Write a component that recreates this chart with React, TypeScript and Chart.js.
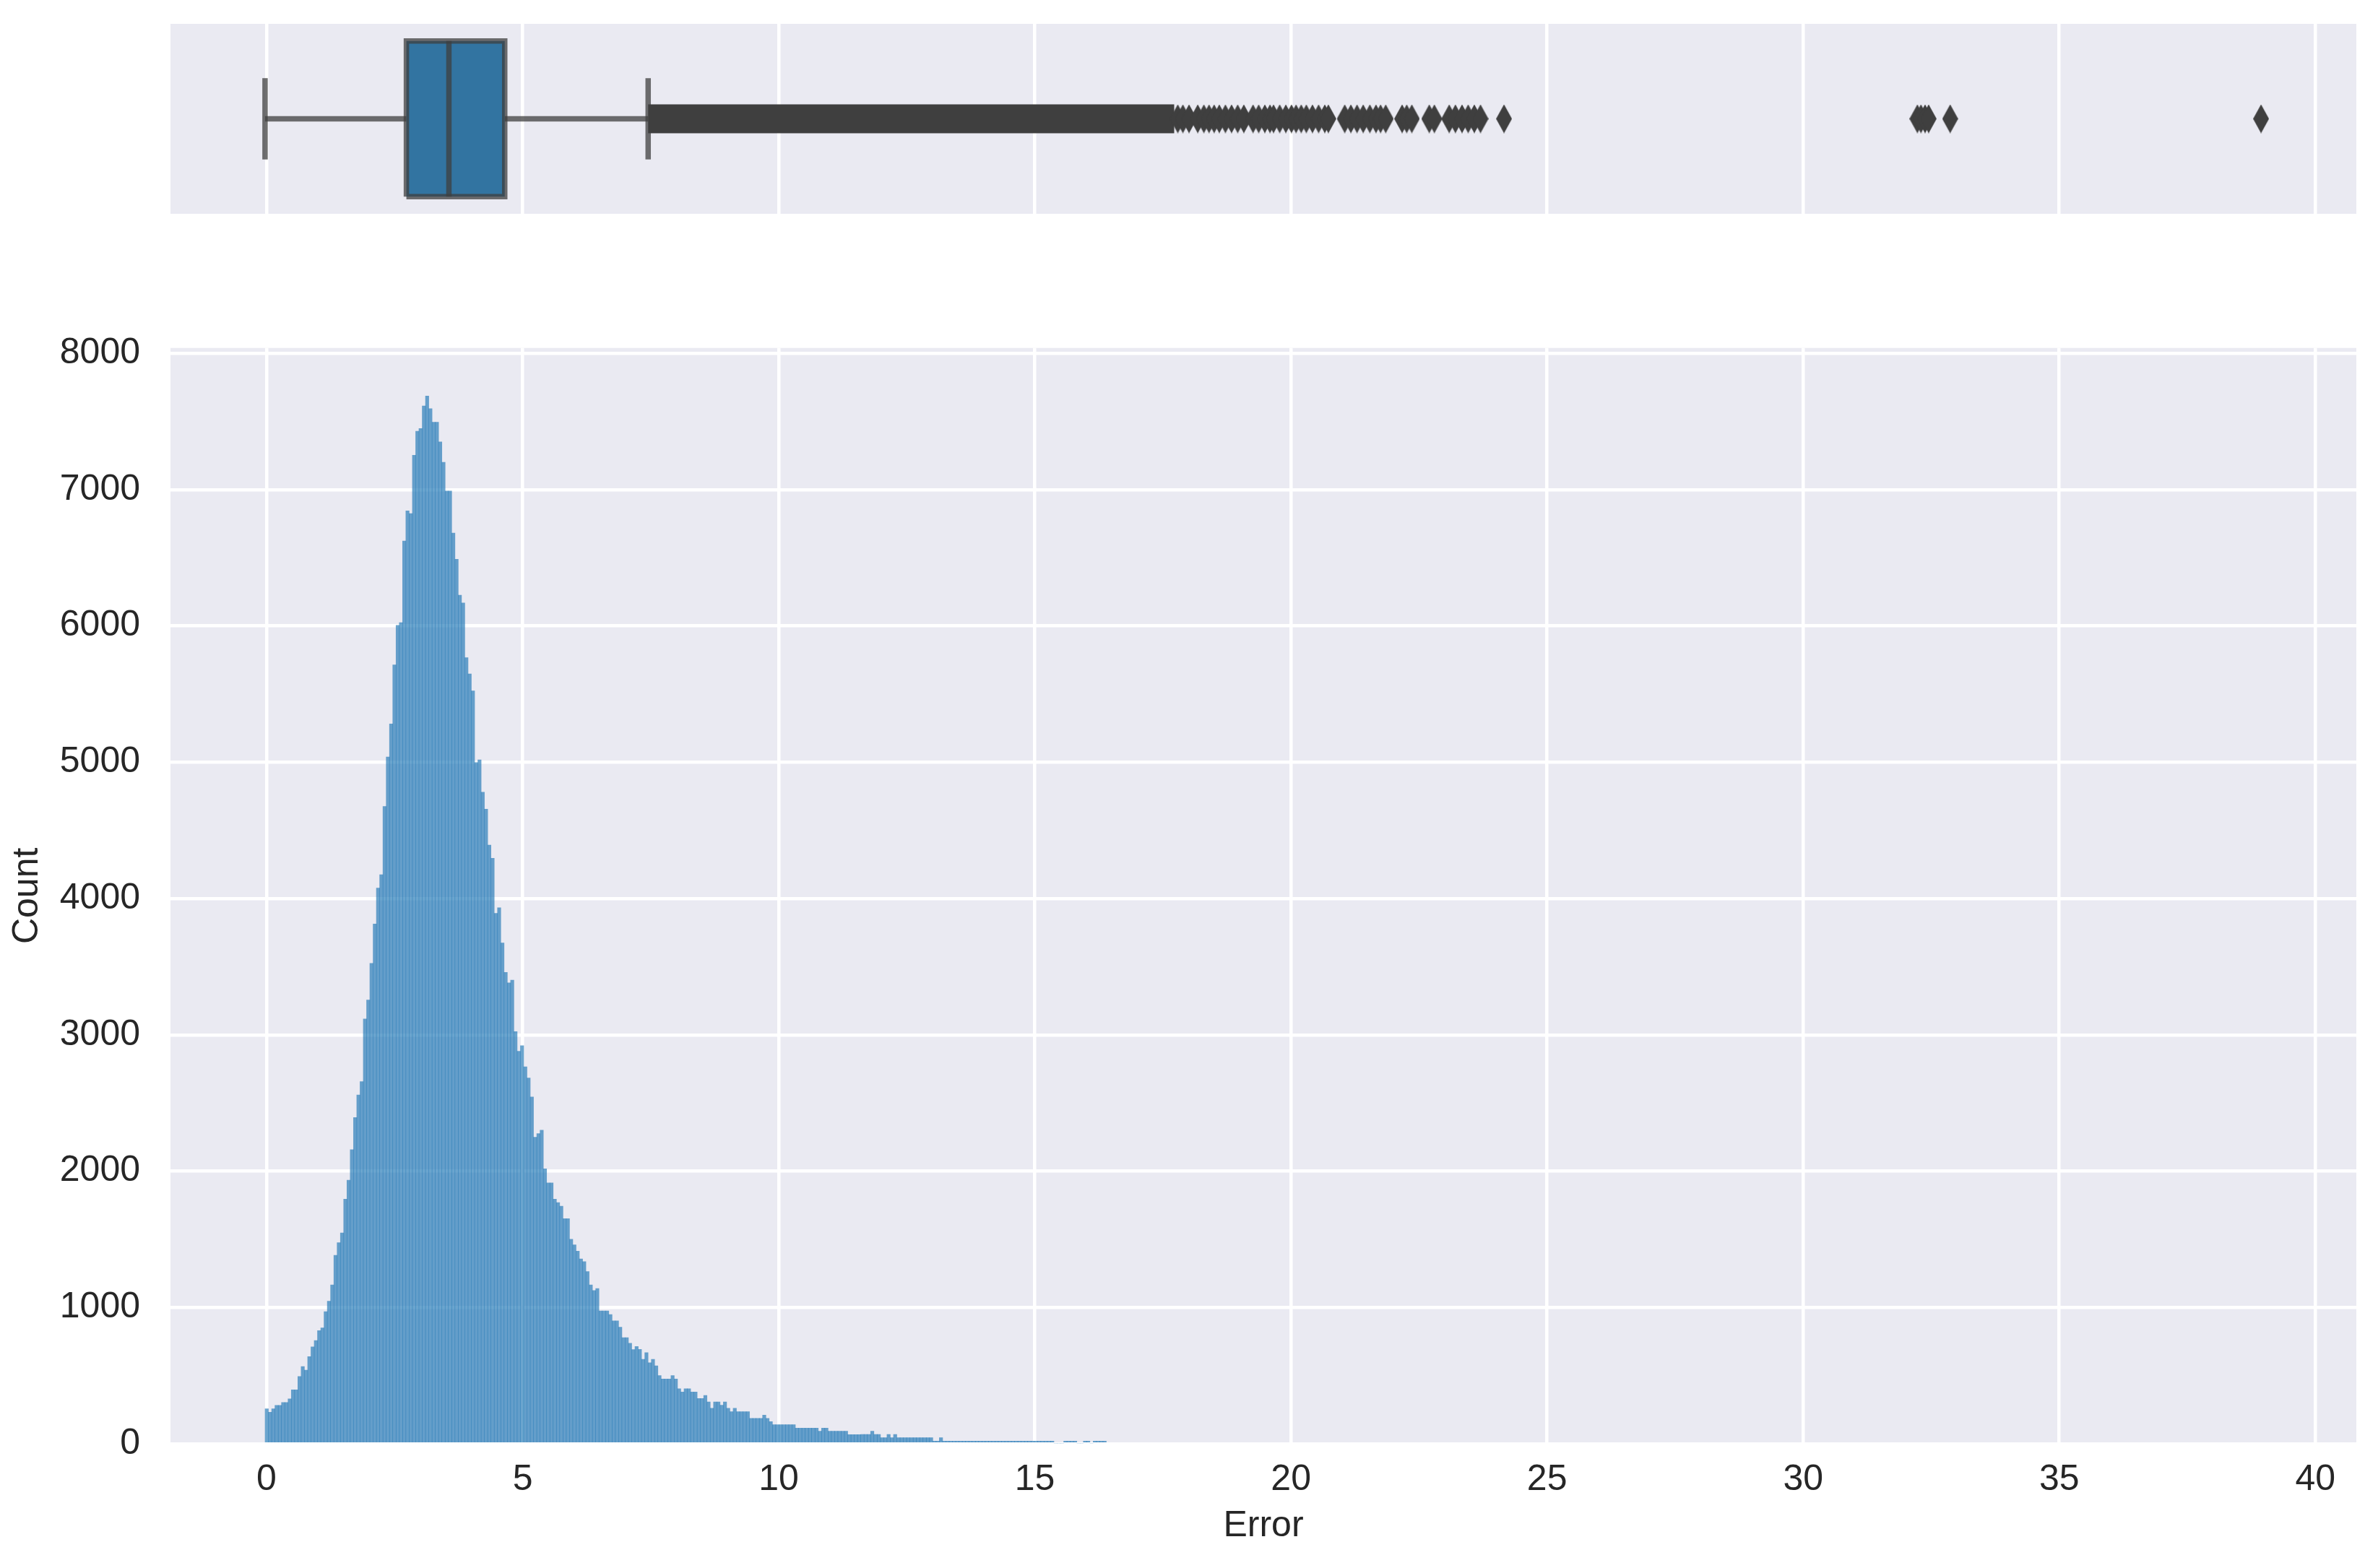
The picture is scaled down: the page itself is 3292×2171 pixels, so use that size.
import { useEffect, useRef } from 'react';
import { Chart, registerables } from 'chart.js';

Chart.register(...registerables);

// ---------------- data ----------------
// Histogram of "Error": regular bins starting at binStart, each binWidth wide
const binStart = -0.028;
const binWidth = 0.0639;
const binCounts: number[] = [
  257, 231, 257, 282, 282, 303, 303, 329, 396, 396,
  494, 566, 540, 639, 711, 757, 830, 850, 969, 1046,
  1165, 1382, 1475, 1547, 1795, 1934, 2157, 2394, 2559, 2657,
  3117, 3256, 3525, 3814, 4077, 4175, 4676, 5039, 5281, 5715,
  6004, 6024, 6623, 6845, 6825, 7253, 7428, 7449, 7614, 7687,
  7594, 7495, 7495, 7351, 7201, 6990, 6990, 6681, 6490, 6226,
  6169, 5767, 5648, 5524, 4998, 5018, 4780, 4656, 4393, 4295,
  3892, 3933, 3674, 3458, 3381, 3401, 3024, 2879, 2921, 2766,
  2683, 2544, 2249, 2275, 2301, 2017, 1914, 1914, 1795, 1769,
  1743, 1651, 1651, 1501, 1460, 1413, 1356, 1336, 1263, 1165,
  1124, 1139, 974, 974, 974, 948, 902, 902, 855, 778,
  778, 738, 691, 713, 692, 620, 668, 595, 620, 572,
  500, 475, 475, 475, 500, 475, 403, 380, 403, 403,
  380, 380, 332, 332, 355, 307, 260, 307, 307, 283,
  307, 260, 235, 260, 235, 235, 235, 235, 187, 187,
  187, 187, 210, 187, 163, 140, 140, 140, 140, 140,
  140, 140, 115, 115, 115, 115, 115, 115, 115, 92,
  115, 115, 92, 92, 92, 92, 92, 92, 67, 67,
  67, 67, 69, 69, 69, 92, 69, 69, 44, 44,
  69, 44, 69, 44, 44, 44, 44, 44, 44, 44,
  44, 44, 44, 44, 20, 20, 44, 20, 20, 20,
  20, 20, 20, 20, 20, 20, 20, 20, 20, 20,
  20, 20, 20, 20, 20, 20, 20, 20, 20, 20,
  20, 20, 20, 20, 20, 20, 20, 20, 20, 20,
  20, 0, 0, 0, 20, 20, 20, 20, 0, 0,
  20, 20, 0, 20, 20, 20, 20,
];

// Box plot summary of the same "Error" values
const boxLowWhisker = -0.03;
const boxQ1 = 2.73;
const boxMedian = 3.56;
const boxQ3 = 4.65;
const boxHighWhisker = 7.45;
// outliers packed so densely that they merge into one solid band
const denseOutlierSpan = [7.45, 17.72];
// individually visible outliers
const sparseOutliers = [
  17.79, 17.89, 18.01, 18.18, 18.30, 18.40, 18.50, 18.60, 18.72, 18.84,
  18.96, 19.08, 19.26, 19.37, 19.49, 19.59, 19.66, 19.78, 19.90, 20.01,
  20.10, 20.20, 20.30, 20.42, 20.54, 20.66, 20.73, 21.05, 21.17, 21.29,
  21.41, 21.54, 21.66, 21.75, 21.85, 22.17, 22.26, 22.36, 22.70, 22.80,
  23.09, 23.21, 23.34, 23.46, 23.58, 23.70, 24.16,
  32.23, 32.30, 32.38, 32.45, 32.87, 38.94,
];

// axes
const xMin = -1.876;
const xMax = 40.8;
const xTickValues = [0, 5, 10, 15, 20, 25, 30, 35, 40];
const xTickLabels = ['0', '5', '10', '15', '20', '25', '30', '35', '40'];
const yMax = 8040;
const yTickValues = [0, 1000, 2000, 3000, 4000, 5000, 6000, 7000, 8000];
const yTickLabels = ['0', '1000', '2000', '3000', '4000', '5000', '6000', '7000', '8000'];
const xTitle = 'Error';
const yTitle = 'Count';

// ---------------- styles ----------------
const W = 3292;
const H = 2171;
const TOP_H = 330;
const FONT = '"Liberation Sans", Arial, sans-serif';
const TEXT = '#262626';
const PLOT_BG = '#eaeaf2';
const GRID_W = 4.5;
const LINE = 'rgba(63,63,63,0.75)';
const LW = 7.5;
const BOX_HALF = 0.41;
const CAP_HALF = 0.214;

const bgPlugin = {
  id: 'plotBg',
  beforeDraw(chart: any) {
    const { ctx, chartArea: a } = chart;
    ctx.save();
    ctx.fillStyle = PLOT_BG;
    ctx.fillRect(a.left, a.top, a.right - a.left, a.bottom - a.top);
    ctx.restore();
  },
};

function makeDiamond(): HTMLCanvasElement {
  const c = document.createElement('canvas');
  c.width = 22;
  c.height = 40;
  const g = c.getContext('2d')!;
  g.fillStyle = '#3f3f3f';
  g.beginPath();
  g.moveTo(11, 0);
  g.lineTo(22, 20);
  g.lineTo(11, 40);
  g.lineTo(0, 20);
  g.closePath();
  g.fill();
  return c;
}

export default function App() {
  const topRef = useRef<HTMLCanvasElement>(null);
  const histRef = useRef<HTMLCanvasElement>(null);

  useEffect(() => {
    const xTicksFn = (scale: any) => {
      scale.ticks = xTickValues.map((v) => ({ value: v }));
    };
    const yTicksFn = (scale: any) => {
      scale.ticks = yTickValues.map((v) => ({ value: v }));
    };

    // ---------- top: box plot ----------
    const diamond = makeDiamond();
    const seg = (pts: { x: number; y: number }[]) => ({
      data: pts,
      showLine: true,
      borderColor: LINE,
      borderWidth: LW,
      pointRadius: 0,
      fill: false,
    });
    const topChart = new Chart(topRef.current!, {
      type: 'scatter',
      data: {
        datasets: [
          {
            data: sparseOutliers.map((v) => ({ x: v, y: 0 })),
            pointStyle: diamond as any,
            pointRadius: 11,
            showLine: false,
          } as any,
          {
            data: [
              { x: denseOutlierSpan[0], y: 0 },
              { x: denseOutlierSpan[1], y: 0 },
            ],
            showLine: true,
            borderColor: '#3f3f3f',
            borderWidth: 40,
            pointRadius: 0,
            fill: false,
          },
          seg([
            { x: boxMedian, y: -BOX_HALF },
            { x: boxMedian, y: BOX_HALF },
          ]),
          {
            data: [
              { x: boxQ1, y: -BOX_HALF },
              { x: boxQ3, y: -BOX_HALF },
              { x: boxQ3, y: BOX_HALF },
              { x: boxQ1, y: BOX_HALF },
              { x: boxQ1, y: -BOX_HALF },
            ],
            showLine: true,
            fill: 'shape',
            backgroundColor: '#3274a1',
            borderColor: LINE,
            borderWidth: LW,
            borderJoinStyle: 'miter',
            pointRadius: 0,
          } as any,
          seg([
            { x: boxLowWhisker, y: -CAP_HALF },
            { x: boxLowWhisker, y: CAP_HALF },
          ]),
          seg([
            { x: boxHighWhisker, y: -CAP_HALF },
            { x: boxHighWhisker, y: CAP_HALF },
          ]),
          seg([
            { x: boxLowWhisker, y: 0 },
            { x: boxQ1, y: 0 },
          ]),
          seg([
            { x: boxQ3, y: 0 },
            { x: boxHighWhisker, y: 0 },
          ]),
        ],
      },
      options: {
        animation: false,
        responsive: false,
        devicePixelRatio: 1,
        events: [],
        layout: { padding: { left: 236, right: W - 3262, top: 33, bottom: TOP_H - 296 } },
        plugins: { legend: { display: false }, tooltip: { enabled: false } },
        scales: {
          x: {
            type: 'linear',
            min: xMin,
            max: xMax,
            afterBuildTicks: xTicksFn,
            afterFit: (s: any) => {
              s.height = 0;
            },
            ticks: { display: false },
            grid: { color: '#ffffff', lineWidth: GRID_W, drawTicks: false },
            border: { display: false },
          },
          y: {
            type: 'linear',
            min: -0.5,
            max: 0.5,
            display: false,
          },
        },
      } as any,
      plugins: [bgPlugin],
    });

    // ---------- bottom: histogram ----------
    const histData = binCounts.map((c, i) => ({
      x: binStart + (i + 0.5) * binWidth,
      y: c,
    }));
    const histChart = new Chart(histRef.current!, {
      type: 'bar',
      data: {
        datasets: [
          {
            data: histData as any,
            backgroundColor: 'rgba(31,119,180,0.66)',
            borderWidth: 0,
            barPercentage: 1,
            categoryPercentage: 1,
          },
        ],
      },
      options: {
        animation: false,
        responsive: false,
        devicePixelRatio: 1,
        events: [],
        layout: { padding: { left: 0, right: W - 3262, top: 481.7, bottom: 20 } },
        plugins: { legend: { display: false }, tooltip: { enabled: false } },
        scales: {
          x: {
            type: 'linear',
            min: xMin,
            max: xMax,
            offset: false,
            afterBuildTicks: xTicksFn,
            afterFit: (s: any) => {
              s.height = H - 20 - 1999;
            },
            ticks: {
              padding: 20,
              maxRotation: 0,
              autoSkip: false,
              color: TEXT,
              font: { family: FONT, size: 50 },
              callback: (_v: any, i: number) => xTickLabels[i],
            },
            grid: { color: '#ffffff', lineWidth: GRID_W, drawTicks: false, offset: false },
            border: { display: false },
            title: {
              display: true,
              text: xTitle,
              color: TEXT,
              font: { family: FONT, size: 50 },
              padding: { top: 0, bottom: 8 },
            },
          },
          y: {
            type: 'linear',
            min: 0,
            max: yMax,
            afterBuildTicks: yTicksFn,
            afterFit: (s: any) => {
              s.width = 236;
            },
            ticks: {
              padding: 42,
              color: TEXT,
              font: { family: FONT, size: 50 },
              callback: (_v: any, i: number) => yTickLabels[i],
            },
            grid: { color: '#ffffff', lineWidth: GRID_W, drawTicks: false },
            border: { display: false },
            title: {
              display: true,
              text: yTitle,
              color: TEXT,
              font: { family: FONT, size: 50 },
              padding: { top: 8, bottom: 0 },
            },
          },
        },
      } as any,
      plugins: [bgPlugin],
    });

    return () => {
      topChart.destroy();
      histChart.destroy();
    };
  }, []);

  return (
    <div
      style={{
        position: 'fixed',
        left: 0,
        top: 0,
        width: W,
        height: H,
        background: '#ffffff',
        overflow: 'hidden',
      }}
    >
      <canvas
        ref={histRef}
        width={W}
        height={H}
        style={{ position: 'absolute', left: 0, top: 0, width: W, height: H }}
      />
      <canvas
        ref={topRef}
        width={W}
        height={TOP_H}
        style={{ position: 'absolute', left: 0, top: 0, width: W, height: TOP_H }}
      />
    </div>
  );
}
